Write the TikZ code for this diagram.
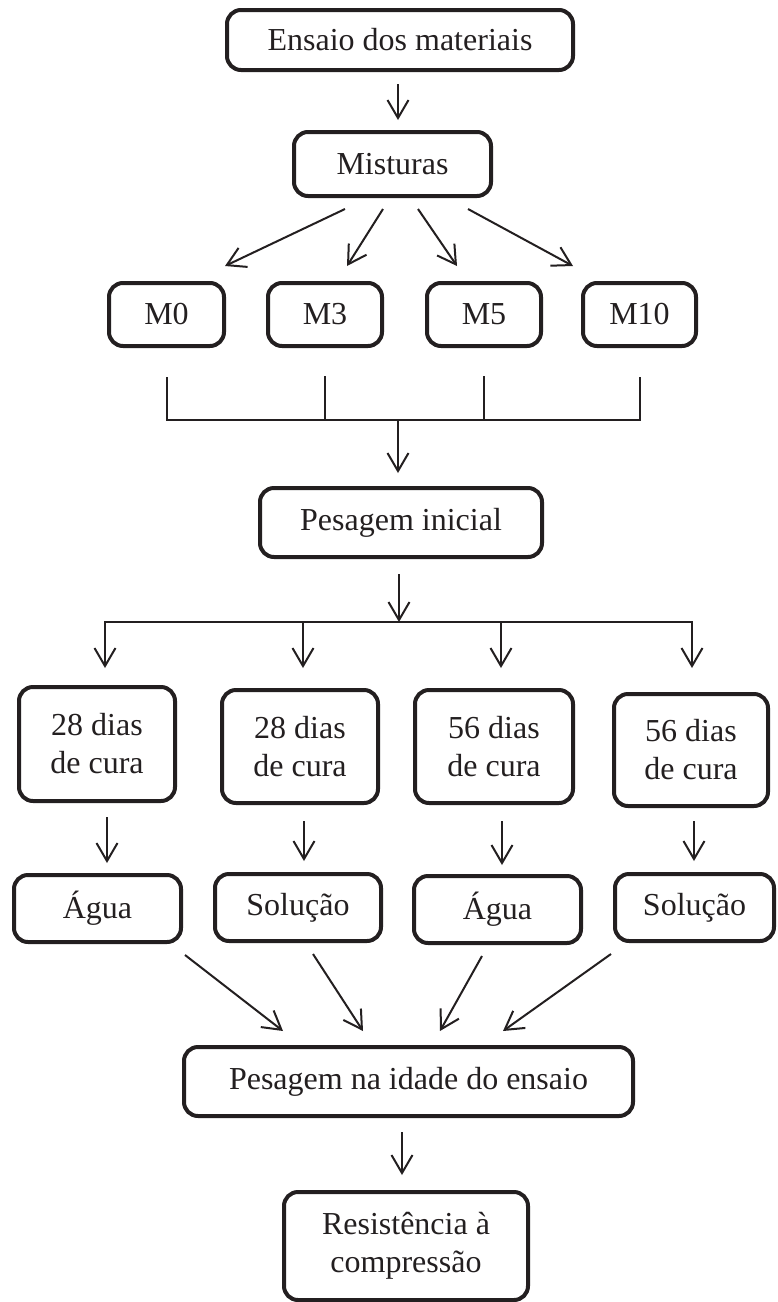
\documentclass[tikz,border=0pt]{standalone}
\usepackage{fontspec}
\setmainfont{Liberation Serif}
\usepackage{tikz}
\usepackage{xcolor}
\usetikzlibrary{arrows.meta, calc, positioning}
\definecolor{boxlinecolor}{RGB}{35,31,32}
\definecolor{arrowcolor}{RGB}{35,31,32}

\tikzset{
	stepbox/.style={draw=boxlinecolor, line width=4pt, rounded corners=14pt, inner sep=0pt,
		align=center, text=boxlinecolor, font=\fontsize{32}{38}\selectfont},
	flowarrow/.style={draw=arrowcolor, line width=2pt, -{Straight Barb[length=18pt,width=21pt]}},
	flowline/.style={draw=arrowcolor, line width=2pt, line cap=rect}
}

\begin{document}
\begin{tikzpicture}[x=1pt,y=1pt]
\useasboundingbox (0,0) rectangle (777,-1302);

% Boxes
\node[stepbox, minimum width=346pt, minimum height=60pt] (ensaio) at (400,-40) {Ensaio dos materiais};
\node[stepbox, minimum width=197pt, minimum height=64pt] (misturas) at (392.5,-164) {Misturas};

\node[stepbox, minimum width=115pt, minimum height=63pt] (mix-1) at (166.5,-314.5) {M0};
\node[stepbox, minimum width=114pt, minimum height=63pt] (mix-2) at (325,-314.5) {M3};
\node[stepbox, minimum width=114pt, minimum height=63pt] (mix-3) at (484,-314.5) {M5};
\node[stepbox, minimum width=113pt, minimum height=63pt] (mix-4) at (639.5,-314.5) {M10};

\node[stepbox, minimum width=282pt, minimum height=69pt] (inicial) at (401,-522.5) {Pesagem inicial};

\node[stepbox, minimum width=156pt, minimum height=114pt] (cura-1) at (97,-744) {28 dias\\de cura};
\node[stepbox, minimum width=156pt, minimum height=113pt] (cura-2) at (300,-746.5) {28 dias\\de cura};
\node[stepbox, minimum width=158pt, minimum height=113pt] (cura-3) at (494,-746.5) {56 dias\\de cura};
\node[stepbox, minimum width=154pt, minimum height=112pt] (cura-4) at (691,-750) {56 dias\\de cura};

\node[stepbox, minimum width=167pt, minimum height=67pt] (meio-1) at (97.5,-908.5) {Água};
\node[stepbox, minimum width=166pt, minimum height=67pt] (meio-2) at (298,-907.5) {Solução};
\node[stepbox, minimum width=167pt, minimum height=67pt] (meio-3) at (497.5,-909.5) {Água};
\node[stepbox, minimum width=159pt, minimum height=67pt] (meio-4) at (694.5,-907.5) {Solução};

\node[stepbox, minimum width=449pt, minimum height=69pt] (idade) at (408.5,-1081.5) {Pesagem na idade do ensaio};
\node[stepbox, minimum width=244pt, minimum height=108pt] (resist) at (406,-1246) {Resistência à\\compressão};

% Ensaio -> Misturas
\draw[flowarrow, shorten <=12pt, shorten >=10pt] ($(ensaio.south)+(-2,0)$) -- ($(ensaio.south |- misturas.north)+(-2,0)$);

% Misturas -> M0 ... M10
\draw[flowarrow] ($(misturas.south)+(-47.5,-11)$) -- ($(mix-1.north)+(58.5,15)$);
\draw[flowarrow] ($(misturas.south)+(-9.5,-11)$) -- ($(mix-2.north)+(22,15)$);
\draw[flowarrow] ($(misturas.south)+(25.5,-11)$) -- ($(mix-3.north)+(-27,15)$);
\draw[flowarrow] ($(misturas.south)+(75.5,-11)$) -- ($(mix-4.north)+(-66.5,15)$);

% Bracket under the mixes
\coordinate[below=29pt of mix-1] (top-1);
\coordinate[below=29pt of mix-2] (top-2);
\coordinate[below=29pt of mix-3] (top-3);
\coordinate[below=29pt of mix-4] (top-4);
\coordinate[below=72pt of mix-1] (foot-1);
\coordinate[below=72pt of mix-2] (foot-2);
\coordinate[below=72pt of mix-3] (foot-3);
\coordinate[below=72pt of mix-4] (foot-4);
\draw[flowline, line cap=butt] (top-1) -- (foot-1) -- (foot-4) -- (top-4);
\draw[flowline] (top-2) -- (foot-2);
\draw[flowline] (top-3) -- (foot-3);

\draw[flowarrow, shorten >=13pt] ($(inicial.north |- foot-1)+(-3,0)$) -- ($(inicial.north)+(-3,0)$);

% Pesagem inicial -> curing boxes
\coordinate (dist-1) at (105,-622);
\coordinate (dist-2) at (303,-622);
\coordinate (dist-3) at (501,-622);
\coordinate (dist-4) at (692,-622);
\draw[flowline] (dist-1) -- (dist-4);
\draw[flowarrow, shorten <=15pt] ($(inicial.south)+(-2,0)$) -- ($(inicial.south |- dist-1)+(-2,0)$);
\draw[flowarrow, shorten >=17pt] (dist-1) -- (dist-1 |- cura-1.north);
\draw[flowarrow, shorten >=20pt] (dist-2) -- (dist-2 |- cura-2.north);
\draw[flowarrow, shorten >=20pt] (dist-3) -- (dist-3 |- cura-3.north);
\draw[flowarrow, shorten >=24pt] (dist-4) -- (dist-4 |- cura-4.north);

% Curing -> medium
\draw[flowarrow, shorten <=14pt, shorten >=10pt] ($(cura-1.south)+(10,0)$) -- ($(cura-1.south |- meio-1.north)+(10,0)$);
\draw[flowarrow, shorten <=16pt, shorten >=11pt] ($(cura-2.south)+(4,0)$) -- ($(cura-2.south |- meio-2.north)+(4,0)$);
\draw[flowarrow, shorten <=16pt, shorten >=9pt] ($(cura-3.south)+(8,0)$) -- ($(cura-3.south |- meio-3.north)+(8,0)$);
\draw[flowarrow, shorten <=13pt, shorten >=11pt] ($(cura-4.south)+(3,0)$) -- ($(cura-4.south |- meio-4.north)+(3,0)$);

% Medium -> Pesagem na idade
\draw[flowarrow] ($(meio-1.south east)+(2,-11)$) -- ($(idade.north)+(-125.5,14)$);
\draw[flowarrow] ($(meio-2.south)+(15,-11)$) -- ($(idade.north)+(-45.5,14)$);
\draw[flowarrow] ($(meio-3.south)+(-15.5,-11)$) -- ($(idade.north)+(31.5,14)$);
\draw[flowarrow] ($(meio-4.south west)+(-2,-11)$) -- ($(idade.north)+(94.5,14)$);

% Pesagem na idade -> Resistencia
\draw[flowarrow, shorten <=14pt, shorten >=15pt] ($(idade.south)+(-6.5,0)$) -- ($(idade.south |- resist.north)+(-6.5,0)$);

\end{tikzpicture}
\end{document}
